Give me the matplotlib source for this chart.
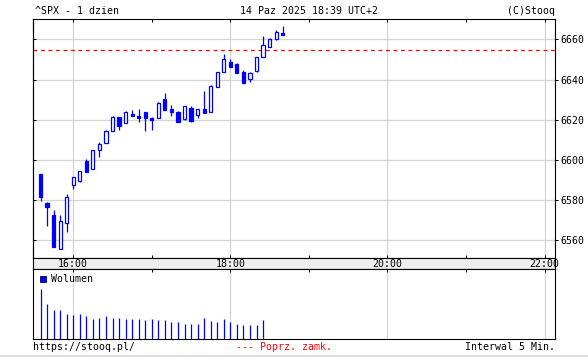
import matplotlib
matplotlib.use("Agg")
import matplotlib.pyplot as plt
import matplotlib.dates as mdates
import pandas as pd

# ^SPX 5-min candles, 14 Oct 2025
times = pd.date_range("2025-10-14 15:35", periods=38, freq="5min")
opens = [6592.8, 6578.6, 6572.6, 6555.5, 6568.5, 6587.4, 6589.4, 6599.5, 6595.7, 6604.8,
         6608.3, 6614.2, 6621.2, 6618.2, 6622.9, 6621.9, 6623.7, 6620.7, 6620.7, 6630.1,
         6625.3, 6623.7, 6620.2, 6625.7, 6622.2, 6625.2, 6624.0, 6636.5, 6643.9, 6648.6,
         6647.6, 6643.9, 6640.1, 6644.4, 6651.0, 6656.4, 6660.2, 6663.0]
highs = [6592.8, 6579.2, 6575.1, 6572.6, 6583.1, 6591.3, 6594.3, 6600.5, 6604.8, 6608.9,
         6614.7, 6621.9, 6621.2, 6624.2, 6624.8, 6625.3, 6623.7, 6621.4, 6628.7, 6633.1,
         6627.3, 6624.2, 6627.0, 6626.8, 6625.2, 6634.3, 6637.3, 6643.6, 6652.7, 6650.4,
         6648.1, 6644.6, 6643.6, 6651.0, 6661.7, 6660.5, 6664.6, 6666.6]
lows = [6579.7, 6567.3, 6556.8, 6555.5, 6564.3, 6585.4, 6588.9, 6594.2, 6595.7, 6601.6,
        6608.3, 6614.2, 6615.1, 6618.2, 6622.0, 6619.0, 6614.6, 6615.1, 6620.7, 6625.0,
        6622.0, 6619.0, 6619.7, 6619.0, 6621.0, 6623.5, 6624.0, 6636.5, 6643.9, 6646.4,
        6643.4, 6638.1, 6638.9, 6643.9, 6651.0, 6656.0, 6659.7, 6662.3]
closes = [6581.7, 6576.3, 6556.8, 6569.6, 6581.4, 6591.3, 6594.3, 6594.2, 6604.8, 6607.8,
          6614.2, 6621.2, 6617.0, 6623.7, 6622.0, 6621.0, 6621.0, 6620.0, 6628.2, 6625.0,
          6624.0, 6619.0, 6626.7, 6619.4, 6625.2, 6623.5, 6636.8, 6643.6, 6650.0, 6646.4,
          6643.4, 6638.1, 6643.1, 6651.0, 6657.0, 6660.0, 6663.5, 6662.3]
volume = [147, 104, 84, 84, 74, 71, 74, 68, 59, 62, 68, 62, 62, 59, 59, 57, 54, 57,
          54, 54, 48, 48, 44, 44, 44, 62, 51, 48, 59, 48, 44, 41, 41, 41, 54]
prev_close = 6654.7
price_ticks = [6560, 6580, 6600, 6620, 6640, 6660]

W, H = 588, 357
BLUE = "#0000ff"
GRID = "#d4d4d4"
FONT = "DejaVu Sans Mono"
FS = 7.1

def box(x0, y0, x1, y1):
    return [x0 / W, 1 - y1 / H, (x1 - x0) / W, (y1 - y0) / H]

t0 = pd.Timestamp("2025-10-14 15:29:30")
t1 = pd.Timestamp("2025-10-14 22:08:00")
hours = pd.date_range("2025-10-14 16:00", "2025-10-14 22:00", freq="1h")
grid_hours = pd.date_range("2025-10-14 16:00", "2025-10-14 22:00", freq="2h")

fig = plt.figure(figsize=(W / 100, H / 100), dpi=100)
fig.patch.set_facecolor("white")

ax = fig.add_axes(box(33.3, 19.3, 555, 258.3))
band = fig.add_axes(box(33.3, 258.3, 555, 269.3))
vol = fig.add_axes(box(33.3, 269.3, 555, 338.5))

for a in (ax, band, vol):
    a.set_xlim(t0, t1)
    for s in a.spines.values():
        s.set_linewidth(0.8)

# main price panel
ax.set_ylim(6551, 6670)
for y in price_ticks:
    ax.axhline(y, color=GRID, lw=0.9, zorder=0)
for t in grid_hours:
    ax.axvline(t, color=GRID, lw=0.9, zorder=0)
ax.axhline(prev_close, color="#ff0000", lw=0.9, dashes=(3, 3), zorder=1)

w = pd.Timedelta(minutes=2.4)
ax.vlines(times, lows, highs, color=BLUE, lw=0.9, zorder=2)
for t, o, c in zip(times, opens, closes):
    fc = BLUE if c < o else "white"
    ax.bar(t, max(abs(c - o), 0.5), bottom=min(o, c), width=w,
           facecolor=fc, edgecolor=BLUE, lw=0.9, zorder=3)

ax.set_xticks(hours)
ax.tick_params(axis="x", top=True, bottom=True, direction="in", length=2.2,
               width=0.7, labelbottom=False)
ax.set_yticks(price_ticks)
ax.yaxis.tick_right()
ax.tick_params(axis="y", direction="out", length=2.2, width=0.7, pad=1.5,
               labelsize=FS)
for lab in ax.get_yticklabels():
    lab.set_fontfamily(FONT)
left = ax.secondary_yaxis("left")
left.set_yticks(price_ticks)
left.tick_params(direction="in", length=2.2, width=0.7, labelleft=False)
left.spines["left"].set_linewidth(0.8)

# time label band
band.set_facecolor("#eeeeee")
band.set_ylim(0, 1)
band.set_xticks([])
band.set_yticks([])
for t in grid_hours:
    band.text(t, 0.45, t.strftime("%H:%M"), ha="center", va="center",
              fontsize=FS, family=FONT)

# volume panel
vol.set_ylim(0, 206)
for t in grid_hours:
    vol.axvline(t, color=GRID, lw=0.9, zorder=0)
vol.vlines(times[:len(volume)], 0, volume, color=BLUE, lw=0.9)
vol.set_xticks(hours)
vol.tick_params(axis="x", top=True, bottom=False, direction="in", length=2.2,
                width=0.7, labelbottom=False)
vol.set_yticks([])
vol.plot([0.018], [0.86], "s", transform=vol.transAxes, ms=4.5,
         color=BLUE, mec="#000060", mew=0.6, clip_on=False)
vol.text(0.033, 0.86, "Wolumen", transform=vol.transAxes, va="center",
         ha="left", fontsize=FS, family=FONT)

# header / footer texts
def ftext(x, y, s, **kw):
    fig.text(x / W, 1 - y / H, s, va="center", fontsize=FS, family=FONT, **kw)

ftext(35, 11, "^SPX - 1 dzien", ha="left")
ftext(240, 11, "14 Paz 2025 18:39 UTC+2", ha="left")
ftext(555, 11, "(C)Stooq", ha="right")
ftext(33, 347, "https://stooq.pl/", ha="left")
ftext(236, 347, "--- Poprz. zamk.", ha="left", color="#ff0000")
ftext(555, 347, "Interwal 5 Min.", ha="right")
fig.add_artist(plt.Line2D([0, 1], [1 - 355.5 / H] * 2, color="#dddddd", lw=1.5))

fig.savefig("out.png", dpi=100)
